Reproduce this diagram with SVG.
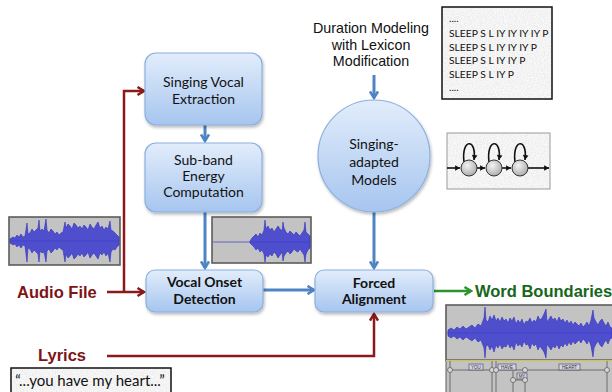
<svg xmlns="http://www.w3.org/2000/svg" width="612" height="392" viewBox="0 0 612 392">
  <defs>
    <linearGradient id="nodeFill" x1="0" y1="0" x2="0" y2="1">
      <stop offset="0" stop-color="#e2edfb"/>
      <stop offset="1" stop-color="#a6c5ef"/>
    </linearGradient>
    <radialGradient id="stateFill" cx="0.4" cy="0.35" r="0.7">
      <stop offset="0" stop-color="#f4f4f4"/>
      <stop offset="1" stop-color="#a8a8a8"/>
    </radialGradient>
    <filter id="shadow" x="-10%" y="-10%" width="125%" height="130%">
      <feDropShadow dx="1" dy="2" stdDeviation="1.5" flood-color="#000" flood-opacity="0.28"/>
    </filter>
    <filter id="grain" x="0" y="0" width="1" height="1">
      <feTurbulence type="fractalNoise" baseFrequency="0.9" numOctaves="2" seed="4" result="n"/>
      <feColorMatrix in="n" type="matrix" values="0.28 0 0 0 0.76  0.28 0 0 0 0.76  0.28 0 0 0 0.76  0 0 0 0 1" result="g"/>
      <feComposite in="g" in2="SourceAlpha" operator="in"/>
    </filter>
    <marker id="headBlue" viewBox="0 0 10 10" markerWidth="10" markerHeight="10" refX="8" refY="5" orient="auto" markerUnits="userSpaceOnUse">
      <path d="M1.5,1 L8,5 L1.5,9" fill="none" stroke="#4f84c4" stroke-width="2.6"/>
    </marker>
    <marker id="headRed" viewBox="0 0 10 10" markerWidth="10" markerHeight="10" refX="8" refY="5" orient="auto" markerUnits="userSpaceOnUse">
      <path d="M1.5,1 L8,5 L1.5,9" fill="none" stroke="#8b1a1a" stroke-width="2.4"/>
    </marker>
    <marker id="headGreen" viewBox="0 0 10 10" markerWidth="10" markerHeight="10" refX="8" refY="5" orient="auto" markerUnits="userSpaceOnUse">
      <path d="M1.5,1 L8,5 L1.5,9" fill="none" stroke="#2e922e" stroke-width="2.4"/>
    </marker>
    <marker id="headBlack" viewBox="0 0 10 10" markerWidth="7" markerHeight="7" refX="8" refY="5" orient="auto" markerUnits="userSpaceOnUse">
      <path d="M1,1 L8,5 L1,9 Z" fill="#111"/>
    </marker>
  </defs>
  <style>
    .node { fill: url(#nodeFill); stroke: #8bb0df; stroke-width: 1.2; filter: url(#shadow); }
    .lbl { font-family: Lato, "Open Sans", sans-serif; font-size: 14px; fill: #111; text-anchor: middle; }
    .bold { font-weight: bold; }
    .plain { font-family: "Liberation Sans", Arial, sans-serif; font-size: 14.3px; fill: #111; text-anchor: middle; }
    .io { font-family: "Liberation Sans", Arial, sans-serif; font-size: 16.5px; font-weight: bold; }
    .blue { fill: none; stroke: #4f84c4; stroke-width: 3; marker-end: url(#headBlue); }
    .red { fill: none; stroke: #8b1a1a; stroke-width: 2.5; }
    .green { fill: none; stroke: #2e922e; stroke-width: 2.5; marker-end: url(#headGreen); }
    .wavebg { fill: #c3c3c3; stroke: #5c5c5c; stroke-width: 1.6; }
    .wave { fill: #3b3bd0; stroke: #3030c0; stroke-width: 0.6; fill-opacity: 0.85; }
    .axis { stroke: #4b4bc0; stroke-width: 0.8; }
    .grainbox { fill: #ddd; filter: url(#grain); }
    .lex { font-family: Lato, "Open Sans", sans-serif; font-size: 10.3px; fill: #111; }
    .tag { fill: #d3d3ea; stroke: #555; stroke-width: 0.7; }
    .tagtxt { font-family: "Liberation Sans", Arial, sans-serif; font-size: 4.5px; fill: #333; text-anchor: middle; }
    .handle { fill: #d8d8d8; stroke: #555; stroke-width: 0.7; }
    .track { stroke: #555; stroke-width: 0.8; fill: none; }
  </style>

  <!-- connectors -->
  <g id="connectors">
    <path class="blue" d="M205,125 V141"/>
    <path class="blue" d="M205,212 V268"/>
    <path class="blue" d="M263,290 H314"/>
    <path class="blue" d="M374,212 V268"/>
    <path class="blue" d="M374,75 V98"/>
    <path class="red" d="M107,292 H144" marker-end="url(#headRed)"/>
    <path class="red" d="M124,292 V91 H144" marker-end="url(#headRed)"/>
    <path class="red" d="M107,356 H374 V314" marker-end="url(#headRed)"/>
    <path class="green" d="M434,291 H471"/>
  </g>

  <!-- processing nodes -->
  <g id="node-extraction">
    <rect class="node" x="145" y="53" width="117" height="72" rx="11"/>
    <text class="lbl" x="203.5" y="87">Singing Vocal</text>
    <text class="lbl" x="203.5" y="104">Extraction</text>
  </g>
  <g id="node-energy">
    <rect class="node" x="145" y="143" width="117" height="69" rx="11"/>
    <text class="lbl" x="203.5" y="165">Sub-band</text>
    <text class="lbl" x="203.5" y="181">Energy</text>
    <text class="lbl" x="203.5" y="197">Computation</text>
  </g>
  <g id="node-onset">
    <rect class="node" x="146" y="270" width="117" height="42" rx="9"/>
    <text class="lbl bold" x="204.5" y="287">Vocal Onset</text>
    <text class="lbl bold" x="204.5" y="304">Detection</text>
  </g>
  <g id="node-models">
    <circle class="node" cx="374" cy="156" r="56"/>
    <text class="lbl" x="374" y="149">Singing-</text>
    <text class="lbl" x="374" y="167">adapted</text>
    <text class="lbl" x="374" y="185">Models</text>
  </g>
  <g id="node-alignment">
    <rect class="node" x="315" y="270" width="118" height="42" rx="9"/>
    <text class="lbl bold" x="374" y="288">Forced</text>
    <text class="lbl bold" x="374" y="304">Alignment</text>
  </g>

  <!-- duration modeling caption -->
  <g id="node-duration">
    <text class="plain" x="371" y="33">Duration Modeling</text>
    <text class="plain" x="371" y="50">with Lexicon</text>
    <text class="plain" x="371" y="66">Modification</text>
  </g>

  <!-- lexicon excerpt -->
  <g id="node-lexicon">
    <rect class="grainbox" x="442" y="7" width="110" height="92"/>
    <rect x="442" y="7" width="110" height="92" fill="none" stroke="#111" stroke-width="1.5"/>
    <text class="lex" x="449" y="22">....</text>
    <text class="lex" x="449" y="37">SLEEP S L IY IY IY IY P</text>
    <text class="lex" x="449" y="50.5">SLEEP S L IY IY IY P</text>
    <text class="lex" x="449" y="64">SLEEP S L IY IY P</text>
    <text class="lex" x="449" y="77.5">SLEEP S L IY P</text>
    <text class="lex" x="449" y="91">....</text>
  </g>

  <!-- left-to-right HMM -->
  <g id="node-hmm">
    <rect class="grainbox" x="447" y="133" width="103" height="56"/>
    <rect x="447" y="133" width="103" height="56" fill="none" stroke="#999" stroke-width="1"/>
    <g fill="none" stroke="#111" stroke-width="1.6" marker-end="url(#headBlack)">
      <path d="M447,168 H460"/>
      <path d="M477,168 H485"/>
      <path d="M502,168 H511"/>
      <path d="M528,168 H549"/>
      <path d="M464,162 C461,138 477,138 474,160"/>
      <path d="M489,162 C486,138 502,138 499,160"/>
      <path d="M515,162 C512,138 528,138 525,160"/>
    </g>
    <circle cx="469" cy="168" r="8" fill="url(#stateFill)" stroke="#333" stroke-width="1"/>
    <circle cx="494" cy="168" r="8" fill="url(#stateFill)" stroke="#333" stroke-width="1"/>
    <circle cx="520" cy="168" r="8" fill="url(#stateFill)" stroke="#333" stroke-width="1"/>
  </g>

  <!-- input audio waveform -->
  <g id="node-audio-wave">
    <rect class="wavebg" x="9" y="217" width="111" height="48"/>
    <line class="axis" x1="10" y1="241" x2="119" y2="241"/>
    <polygon class="wave" points="10,239 13,237 15,238 17,235 19,237 21,234 23,237 25,236 27,223 28,234 30,233 32,229 34,232 36,230 38,228 39,220 40,231 42,229 44,231 46,219 47,230 49,233 51,229 53,231 55,234 57,232 59,235 61,233 63,232 65,222 66,228 68,224 70,226 72,229 74,223 76,225 78,228 80,226 82,229 84,225 86,227 88,230 90,224 92,227 94,229 96,225 98,222 100,228 102,226 104,230 106,227 108,229 110,221 111,230 113,231 115,233 117,235 119,237 119,245 117,247 115,250 113,249 111,252 110,262 108,253 106,256 104,252 102,255 100,253 98,259 96,256 94,253 92,255 90,258 88,252 86,255 84,257 82,253 80,256 78,254 76,257 74,259 72,253 70,256 68,258 66,254 65,262 63,250 61,249 59,247 57,250 55,248 53,251 51,253 49,249 47,251 46,262 44,252 42,253 40,251 39,262 38,254 36,252 34,250 32,253 30,249 28,248 27,262 25,246 23,245 21,248 19,245 17,247 15,244 13,245 10,243"/>
  </g>

  <!-- extracted vocal waveform -->
  <g id="node-vocal-wave">
    <rect class="wavebg" x="212" y="217" width="99" height="46" stroke-width="2"/>
    <line class="axis" x1="213" y1="242" x2="310" y2="242"/>
    <polygon class="wave" points="250,241 252,238 254,236 256,234 258,237 260,233 262,235 264,230 265,220 266,229 268,226 270,230 272,228 274,232 276,229 278,226 280,229 282,231 283,222 284,228 286,232 288,234 290,231 292,233 294,235 296,232 298,234 300,236 302,233 304,230 305,222 306,232 308,234 310,236 310,248 308,250 306,254 305,262 304,255 302,252 300,249 298,252 296,251 294,249 292,252 290,254 288,251 286,253 284,256 283,261 282,252 280,255 278,258 276,254 274,252 272,256 270,254 268,257 266,255 265,262 264,254 262,250 260,252 258,248 256,250 254,247 252,245 250,243"/>
  </g>

  <!-- input labels -->
  <g id="node-audio-file">
    <text class="io" x="17" y="298" fill="#7d1416">Audio File</text>
  </g>
  <g id="node-lyrics">
    <text class="io" x="38" y="361" fill="#7d1416">Lyrics</text>
    <rect class="grainbox" x="11" y="368" width="160" height="26"/>
    <rect x="11" y="368" width="160" height="30" fill="none" stroke="#111" stroke-width="1.5"/>
    <text x="90" y="386" font-family="Lato, 'Open Sans', sans-serif" font-size="15" fill="#111" text-anchor="middle">“...you have my heart...”</text>
  </g>

  <!-- output -->
  <g id="node-word-boundaries">
    <text class="io" x="475" y="297" fill="#17661a">Word Boundaries</text>
    <rect class="wavebg" x="446" y="305" width="170" height="55"/>
    <line class="axis" x1="447" y1="333" x2="612" y2="333"/>
    <polygon class="wave" points="448,330 451,328 454,330 457,327 460,329 463,326 466,329 469,327 472,325 475,328 478,324 481,326 484,318 485,307 486,320 488,322 490,316 492,320 494,315 496,321 498,318 500,322 502,317 504,321 506,319 508,323 510,318 512,321 514,317 516,324 518,320 520,323 522,319 524,325 526,321 528,322 530,318 532,323 534,320 536,322 538,316 540,320 542,318 544,314 546,309 547,322 549,319 551,316 553,320 555,318 557,322 559,317 561,321 563,319 565,323 567,320 569,324 571,321 573,325 575,322 577,324 579,326 581,323 583,327 585,325 587,322 589,326 591,320 593,310 594,318 596,322 598,325 600,321 602,319 604,323 606,326 608,322 610,327 612,328 612,338 610,339 608,344 606,340 604,343 602,347 600,345 598,341 596,344 594,348 593,357 591,346 589,340 587,344 585,341 583,339 581,343 579,340 577,342 575,344 573,341 571,345 569,342 567,346 565,343 563,347 561,345 559,349 557,344 555,348 553,346 551,350 549,347 547,344 546,358 544,352 542,349 540,346 538,350 536,344 534,346 532,343 530,349 528,344 526,345 524,341 522,347 520,344 518,346 516,342 514,350 512,345 510,348 508,343 506,347 504,346 502,349 500,344 498,348 496,345 494,352 492,346 490,350 488,345 486,346 485,358 484,348 481,340 478,342 475,338 472,341 469,339 466,337 463,340 460,337 457,339 454,336 451,338 448,336"/>
    <rect x="446" y="360" width="170" height="34" fill="#c3c3c3" stroke="#5c5c5c" stroke-width="1"/>
    <line x1="446" y1="360.5" x2="612" y2="360.5" stroke="#c9c36e" stroke-width="1.5"/>
    <path class="track" d="M450,361 V392 M492,361 V392 M496,361 V392 M513,371 V392 M525,371 V392 M607,361 V392 M450,370 H492 M496,370 H607 M513,380 H525"/>
    <rect class="tag" x="469" y="364" width="14" height="6"/>
    <text class="tagtxt" x="476" y="368.8">YOU</text>
    <rect class="tag" x="498" y="364" width="18" height="6"/>
    <text class="tagtxt" x="507" y="368.8">HAVE</text>
    <rect class="tag" x="517" y="373" width="10" height="6"/>
    <text class="tagtxt" x="522" y="377.8">MY</text>
    <rect class="tag" x="559" y="364" width="21" height="6"/>
    <text class="tagtxt" x="569.5" y="368.8">HEART</text>
    <circle class="handle" cx="450" cy="370" r="2.5"/>
    <circle class="handle" cx="492" cy="370" r="2.5"/>
    <circle class="handle" cx="496" cy="370" r="2.5"/>
    <circle class="handle" cx="525" cy="370" r="2.5"/>
    <circle class="handle" cx="607" cy="370" r="2.5"/>
    <circle class="handle" cx="513" cy="380" r="2.5"/>
    <circle class="handle" cx="525" cy="380" r="2.5"/>
  </g>
</svg>
